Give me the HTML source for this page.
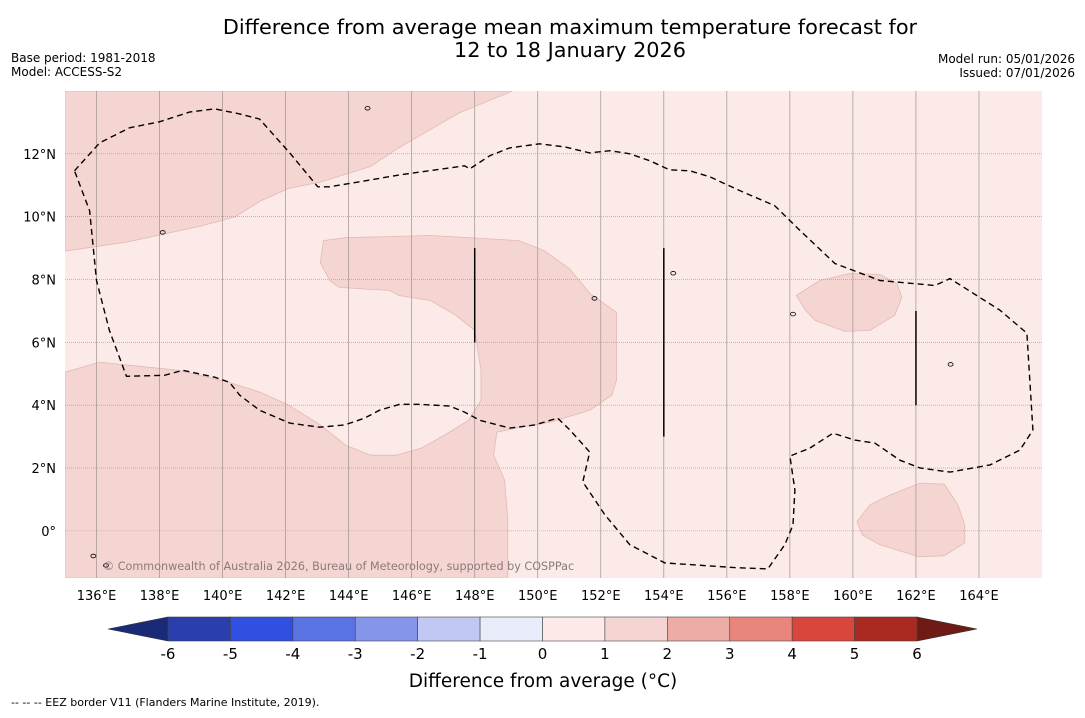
<!DOCTYPE html>
<html><head><meta charset="utf-8">
<style>
body{margin:0;background:#fff;}
svg text{font-family:"DejaVu Sans","Liberation Sans",sans-serif;}
</style></head>
<body>
<svg id="chart" width="1085" height="713" viewBox="0 0 1085 713" xmlns="http://www.w3.org/2000/svg">
<text x="570" y="34" font-size="20.8" text-anchor="middle">Difference from average mean maximum temperature forecast for</text>
<text x="570" y="57" font-size="20.8" text-anchor="middle">12 to 18 January 2026</text>
<text x="11" y="62" font-size="12">Base period: 1981-2018</text>
<text x="11" y="76" font-size="12">Model: ACCESS-S2</text>
<text x="1075" y="63" font-size="12" text-anchor="end">Model run: 05/01/2026</text>
<text x="1075" y="77" font-size="12" text-anchor="end">Issued: 07/01/2026</text>
<g id="map"></g>
<g id="cbar"></g>
<text x="543" y="687" font-size="18.5" text-anchor="middle">Difference from average (°C)</text>
<text x="11" y="706" font-size="11">--  --  -- EEZ border V11 (Flanders Marine Institute, 2019).</text>
</svg>
<script>
const lonTicks=[136,138,140,142,144,146,148,150,152,154,156,158,160,162,164];
const latTicks=[0,2,4,6,8,10,12];
const lonRange=[135,166];
const latRange=[-1.5,14];
const regionNW=[[135,14],[149.2,14],[147.5,13.3],[145.6,12.2],[144.7,11.6],[143.1,11.1],[142.1,10.9],[141.2,10.5],[140.4,10.0],[139.3,9.7],[137.0,9.2],[135,8.9]];
const regionCentral=[[135,5.05],[136.1,5.37],[137.05,5.27],[138.6,5.11],[140.2,4.73],[141.2,4.41],[142.1,4.0],[143.1,3.37],[143.9,2.73],[144.7,2.41],[145.5,2.41],[146.3,2.63],[147.05,3.05],[147.8,3.52],[148.2,4.16],[148.2,5.11],[148.0,6.38],[147.4,6.86],[146.6,7.33],[145.6,7.49],[145.3,7.65],[143.7,7.75],[143.4,7.97],[143.1,8.54],[143.2,9.24],[143.9,9.33],[146.6,9.4],[149.4,9.24],[150.2,8.92],[151.0,8.35],[151.65,7.56],[152.5,6.95],[152.5,4.79],[152.35,4.32],[151.65,3.84],[150.4,3.46],[149.3,3.27],[148.7,3.14],[148.6,2.41],[148.95,1.62],[149.05,0.35],[149.05,-1.5],[135,-1.5]];
const regionEast=[[158.2,7.49],[158.95,7.97],[159.9,8.19],[160.86,8.16],[161.4,7.87],[161.55,7.43],[161.33,6.86],[160.54,6.38],[159.75,6.35],[158.8,6.7],[158.5,7.02]];
const regionSE=[[160.13,0.29],[160.54,0.83],[161.17,1.14],[162.13,1.52],[162.9,1.49],[163.33,0.83],[163.55,0.19],[163.55,-0.38],[162.9,-0.79],[162.1,-0.83],[160.86,-0.44],[160.3,-0.13]];
const eezLine=[[135.30,11.46],[136.10,12.35],[137.05,12.83],[138.0,13.02],[138.95,13.33],[139.75,13.43],[140.54,13.27],[141.17,13.11],[142.13,12.03],[143.02,10.95],[143.40,10.95],[144.51,11.14],[145.62,11.33],[147.68,11.62],[147.84,11.52],[148.48,11.94],[149.11,12.19],[150.06,12.32],[150.86,12.22],[151.65,12.03],[152.29,12.10],[152.92,12.0],[153.56,11.78],[154.19,11.49],[154.83,11.46],[155.46,11.27],[156.41,10.83],[157.52,10.35],[158.32,9.56],[159.43,8.51],[160.86,7.97],[162.6,7.81],[163.08,8.03],[164.67,7.02],[165.52,6.29],[165.71,3.21],[165.3,2.57],[164.35,2.10],[163.08,1.87],[162.13,2.0],[161.49,2.25],[160.70,2.79],[160.06,2.89],[159.37,3.11],[158.63,2.63],[158.0,2.38],[158.16,1.30],[158.10,0.19],[157.84,-0.44],[157.30,-1.21],[156.25,-1.17],[154.03,-1.02],[152.92,-0.44],[152.13,0.51],[151.43,1.56],[151.65,2.51],[151.02,3.21],[150.63,3.59],[149.90,3.37],[149.11,3.27],[148.16,3.52],[147.68,3.78],[147.21,3.97],[146.25,4.03],[145.62,4.03],[144.98,3.84],[144.51,3.59],[143.87,3.37],[143.08,3.30],[142.13,3.43],[141.17,3.84],[140.54,4.32],[140.22,4.73],[139.75,4.89],[138.73,5.11],[138.16,4.95],[136.95,4.92],[136.41,6.38],[136.0,7.97],[135.78,10.19],[135.30,11.46]];
const solidLines=[[148,9,6],[154,9,3],[162,7,4]];
const islands=[[144.6,13.45],[138.1,9.5],[151.8,7.4],[158.1,6.9],[163.1,5.3],[154.3,8.2],[135.9,-0.8],[136.3,-1.1]];
const cbarLevels=[-6,-5,-4,-3,-2,-1,0,1,2,3,4,5,6];
const cbarColors=["#2a3fad","#2f50e0","#5a73e2","#8596ea","#c0c8f3","#e9ecfa","#fbeae7","#f5d5d2","#ecaca5","#e8867e","#d9473c","#aa2a22"];
const cbarUnder="#1b2a77",cbarOver="#6f1a15";

const NS="http://www.w3.org/2000/svg";
const X0=65,X1=1042,Y0=91,Y1=578;
function xs(lon){return X0+(lon-lonRange[0])/(lonRange[1]-lonRange[0])*(X1-X0);}
function ys(lat){return Y1-(lat-latRange[0])/(latRange[1]-latRange[0])*(Y1-Y0);}
function mk(tag,attrs,parent){const e=document.createElementNS(NS,tag);for(const k in attrs)e.setAttribute(k,attrs[k]);parent.appendChild(e);return e;}
function pts(a){return a.map(p=>xs(p[0]).toFixed(1)+","+ys(p[1]).toFixed(1)).join(" ");}
const map=document.getElementById('map');
let bg=mk('rect',{x:X0,y:Y0,width:X1-X0,height:Y1-Y0,fill:"#fbeae7"},map);


const clip=mk('clipPath',{id:'mc'},map);mk('rect',{x:X0,y:Y0,width:X1-X0,height:Y1-Y0},clip);
const g=mk('g',{'clip-path':'url(#mc)'},map);
[[regionNW,'region-nw'],[regionCentral,'region-central'],[regionEast,'region-east'],[regionSE,'region-se']].forEach(([r,n])=>{
 const p=mk('polygon',{points:pts(r),fill:"#f5d5d2",stroke:"#e3b9b5","stroke-width":0.8},g);
 
 
});
lonTicks.forEach(l=>{
 const ln=mk('line',{x1:xs(l),x2:xs(l),y1:Y0,y2:Y1,stroke:"#a09090","stroke-width":0.7},g);
 
 
 const t=mk('text',{x:xs(l),y:600,"font-size":13,"text-anchor":"middle"},document.getElementById('chart'));
 t.textContent=l+"°E";
 
 
});
latTicks.forEach(l=>{
 const ln=mk('line',{x1:X0,x2:X1,y1:ys(l),y2:ys(l),stroke:"#999","stroke-width":0.6,"stroke-dasharray":"1,1"},g);
 
 
 const t=mk('text',{x:56,y:ys(l)+5,"font-size":13,"text-anchor":"end"},document.getElementById('chart'));
 t.textContent=l===0?"0°":l+"°N";
 
 
});
const eez=mk('polyline',{points:pts(eezLine),fill:"none",stroke:"#000","stroke-width":1.4,"stroke-dasharray":"6,4"},g);


solidLines.forEach(s=>{
 const l=mk('line',{x1:xs(s[0]),x2:xs(s[0]),y1:ys(s[1]),y2:ys(s[2]),stroke:"#000","stroke-width":1.5},g);
 
 
});
islands.forEach(s=>{
 const c=mk('ellipse',{cx:xs(s[0]),cy:ys(s[1]),rx:2.5,ry:1.8,fill:"none",stroke:"#000","stroke-width":0.8},g);
 
 
});
const cp=mk('text',{x:103,y:570,"font-size":11.2,fill:"#8a7a7a"},g);
cp.textContent="© Commonwealth of Australia 2026, Bureau of Meteorology, supported by COSPPac";



const cb=document.getElementById('cbar');
const CX0=168,CX1=917,CY0=617,CY1=641;
function cx(v){return CX0+(v-cbarLevels[0])/(cbarLevels[cbarLevels.length-1]-cbarLevels[0])*(CX1-CX0);}
let tri=mk('polygon',{points:`${CX0},${CY0} ${CX0},${CY1} 108,${(CY0+CY1)/2}`,fill:cbarUnder,stroke:"#333","stroke-width":0.6},cb);


tri=mk('polygon',{points:`${CX1},${CY0} ${CX1},${CY1} 977,${(CY0+CY1)/2}`,fill:cbarOver,stroke:"#333","stroke-width":0.6},cb);


cbarColors.forEach((c,i)=>{
 const r=mk('rect',{x:cx(cbarLevels[i]),y:CY0,width:cx(cbarLevels[i+1])-cx(cbarLevels[i]),height:CY1-CY0,fill:c,stroke:"#444","stroke-width":0.6},cb);
 
 
});
cbarLevels.forEach(v=>{
 const t=mk('text',{x:cx(v),y:659,"font-size":15,"text-anchor":"middle"},cb);
 t.textContent=v;
 
 
});
</script>
</body></html>
